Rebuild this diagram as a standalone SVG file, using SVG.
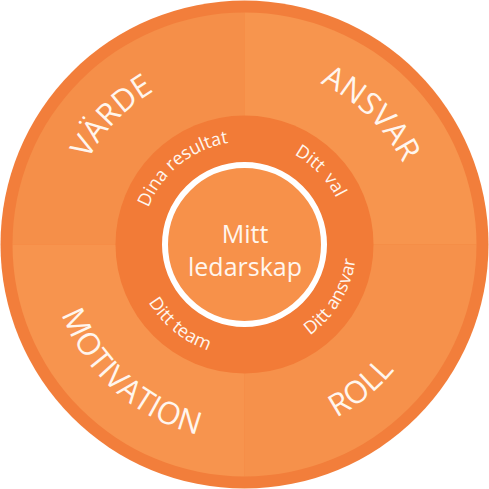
<svg xmlns="http://www.w3.org/2000/svg" width="489" height="489" viewBox="0 0 489 489">
  <style>
    .outer { font-family: "Open Sans", "Liberation Sans", sans-serif; font-size: 31px; fill: #FFF6EE; }
    .inner { font-family: "Open Sans", "Liberation Sans", sans-serif; font-size: 18px; fill: #FFF6EE; }
    .center { font-family: "Open Sans", "Liberation Sans", sans-serif; font-size: 25px; fill: #FFF6EE; text-anchor: middle; }
  </style>
  <defs>
    <path id="topOuter" d="M69.2,213.6 A178,178 0 0 1 419.8,213.6"/>
    <path id="bottomOuter" d="M51.5,278.5 A196,196 0 0 0 437.5,278.5"/>
    <path id="topInner" d="M143.1,226.6 A103,103 0 0 1 345.9,226.6"/>
    <path id="bottomInner" d="M134.2,263.9 A112,112 0 0 0 354.8,263.9"/>
  </defs>

  <g id="outer-ring">
    <circle cx="244.5" cy="244.5" r="244" fill="#F27E3B"/>
  </g>
  <g id="quadrants">
    <path d="M244.5,244.5 L12.5,244.5 A232,232 0 0 1 244.5,12.5 Z" fill="#F58F49"/>
    <path d="M244.5,244.5 L244.5,12.5 A232,232 0 0 1 476.5,244.5 Z" fill="#F7954E"/>
    <path d="M244.5,244.5 L476.5,244.5 A232,232 0 0 1 244.5,476.5 Z" fill="#F6914B"/>
    <path d="M244.5,244.5 L244.5,476.5 A232,232 0 0 1 12.5,244.5 Z" fill="#F7944E"/>
  </g>
  <g id="inner-ring">
    <circle cx="244.5" cy="244.5" r="129" fill="#F27B37"/>
  </g>
  <g id="center">
    <circle cx="244.5" cy="244.5" r="79.5" fill="#F7914A" stroke="#FFFFFF" stroke-width="6"/>
    <text class="center" x="245" y="243">Mitt</text>
    <text class="center" x="245" y="276">ledarskap</text>
  </g>

  <g id="label-varde" transform="rotate(-46 244.5 244.5)">
    <text class="outer"><textPath href="#topOuter" startOffset="50%" text-anchor="middle">VÄRDE</textPath></text>
  </g>
  <g id="label-ansvar" transform="rotate(44 244.5 244.5)">
    <text class="outer"><textPath href="#topOuter" startOffset="50%" text-anchor="middle">ANSVAR</textPath></text>
  </g>
  <g id="label-roll" transform="rotate(-39 244.5 244.5)">
    <text class="outer"><textPath href="#bottomOuter" startOffset="50%" text-anchor="middle">ROLL</textPath></text>
  </g>
  <g id="label-motivation" transform="rotate(41.5 244.5 244.5)">
    <text class="outer"><textPath href="#bottomOuter" startOffset="50%" text-anchor="middle">MOTIVATION</textPath></text>
  </g>

  <g id="label-dina-resultat" transform="rotate(-39 244.5 244.5)">
    <text class="inner"><textPath href="#topInner" startOffset="50%" text-anchor="middle">Dina resultat</textPath></text>
  </g>
  <g id="label-ditt-val" transform="rotate(46 244.5 244.5)">
    <text class="inner" word-spacing="3"><textPath href="#topInner" startOffset="50%" text-anchor="middle">Ditt val</textPath></text>
  </g>
  <g id="label-ditt-team" transform="rotate(39 244.5 244.5)">
    <text class="inner"><textPath href="#bottomInner" startOffset="50%" text-anchor="middle">Ditt team</textPath></text>
  </g>
  <g id="label-ditt-ansvar" transform="rotate(-59 244.5 244.5)">
    <text class="inner"><textPath href="#bottomInner" startOffset="50%" text-anchor="middle">Ditt ansvar</textPath></text>
  </g>
</svg>
